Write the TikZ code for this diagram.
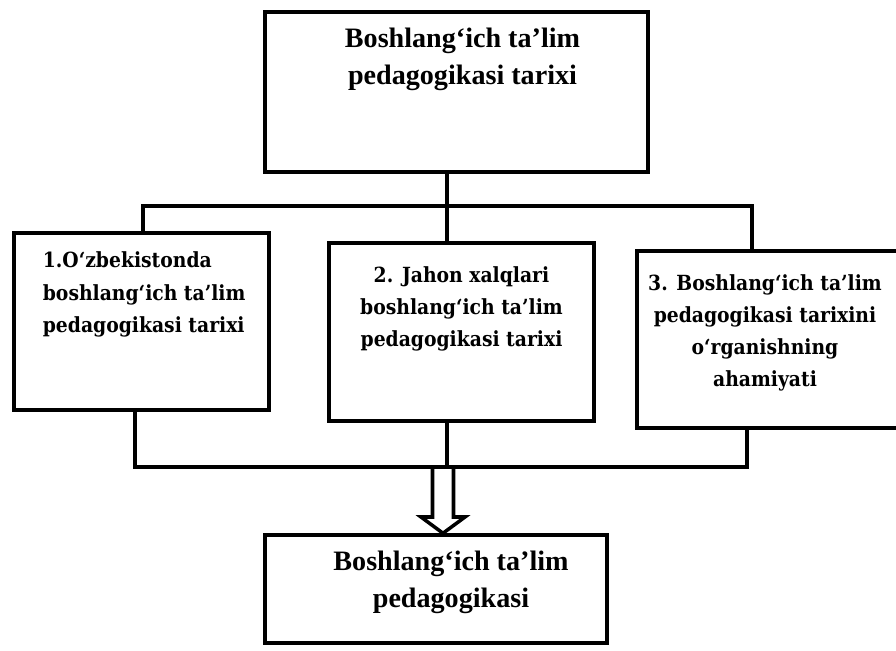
\documentclass[tikz,border=0pt]{standalone}
\usepackage{fontspec}
\setmainfont{Liberation Serif}
\newfontfamily\boxfont{DejaVu Serif Condensed}
\usetikzlibrary{calc}
\pgfdeclarelayer{bg}
\pgfsetlayers{bg,main}

\tikzset{
  box/.style={draw, line width=3pt, inner sep=0pt},
  conn/.style={line width=3pt},
  headtext/.style={font=\bfseries\fontsize{24}{31}\selectfont, align=center, inner sep=0pt, anchor=north},
  parttext/.style={font=\boxfont\bfseries\fontsize{17.8}{27.5}\selectfont, inner sep=0pt, anchor=north}
}

\begin{document}
\begin{tikzpicture}[x=0.03cm, y=-0.03cm]
        \useasboundingbox (0,0) rectangle (896,651);

        \node (top) [box, minimum width=11.49cm, minimum height=4.8cm,
                label={[headtext, xshift=0.18cm, yshift=-0.54cm]north:{Boshlang‘ich ta’lim\\pedagogikasi tarixi}}] at (456.5,92) {};
        \node (p1) [box, minimum width=7.65cm, minimum height=5.31cm,
                label={[parttext, align=left, xshift=0.08cm, yshift=-0.62cm]north:{1.O‘zbekistonda\\ boshlang‘ich ta’lim\\ pedagogikasi tarixi}}] at (141.5,321.5) {};
        \node (p2) [box, minimum width=7.95cm, minimum height=5.34cm,
                label={[parttext, align=center, yshift=-0.75cm]north:{2. Jahon xalqlari\\boshlang‘ich ta’lim\\pedagogikasi tarixi}}] at (461.5,332) {};
        \node (p3) [box, minimum width=8.04cm, minimum height=5.31cm,
                label={[parttext, align=center, xshift=-0.18cm, yshift=-0.75cm]north:{3. Boshlang‘ich ta’lim\\pedagogikasi tarixini\\o‘rganishning\\ahamiyati}}] at (771,339.5) {};
        \node (bot) [box, minimum width=10.26cm, minimum height=3.24cm,
                label={[headtext, xshift=0.45cm, yshift=-0.54cm]north:{Boshlang‘ich ta’lim\\pedagogikasi}}] at (436,589) {};

        \coordinate (tl) at (143,206);
        \coordinate (tm) at (447,206);
        \coordinate (tr) at (752,206);
        \coordinate (bl) at (135,467);
        \coordinate (bm) at (447,467);
        \coordinate (br) at (747,467);
        \coordinate (ar) at (443,467);

        \begin{pgfonlayer}{bg}
                \fill [white] (0,0) rectangle (896,651);
                \draw [conn] (top.south -| tm) -- (tm);
                \draw [conn, line join=miter] (p1.north -| tl) -- (tl) -- (tr) -- (p3.north -| tr);
                \draw [conn] (tm) -- (p2.north -| tm);
                \draw [conn, line join=miter] (p1.south -| bl) -- (bl) -- (br) -- (p3.south -| br);
                \draw [conn] (p2.south -| bm) -- (bm);
                \draw [conn, line join=miter] ($(ar)+(-10.5,0)$) -- ++(0,50) -- ++(-11.5,0)
                        -- (ar |- bot.north) -- ($(ar)+(22,50)$) -- ++(-11.5,0) -- ($(ar)+(10.5,0)$);
        \end{pgfonlayer}
\end{tikzpicture}
\end{document}
